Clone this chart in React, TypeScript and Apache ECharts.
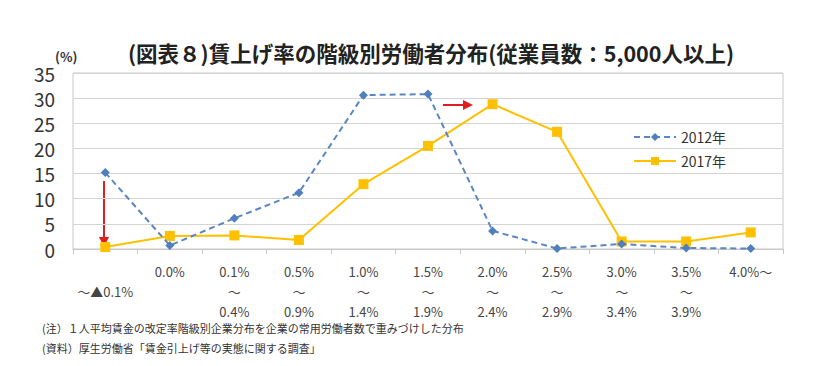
import React, { useEffect, useRef } from "react";
import * as echarts from "echarts";

const categories = [
  "\n～▲0.1%\n",
  "0.0%\n\n",
  "0.1%\n～\n0.4%",
  "0.5%\n～\n0.9%",
  "1.0%\n～\n1.4%",
  "1.5%\n～\n1.9%",
  "2.0%\n～\n2.4%",
  "2.5%\n～\n2.9%",
  "3.0%\n～\n3.4%",
  "3.5%\n～\n3.9%",
  "4.0%～\n\n",
];
const values2012 = [15.2, 0.7, 6.1, 11.2, 30.6, 30.8, 3.6, 0.1, 1.0, 0.2, 0.1];
const values2017 = [0.4, 2.6, 2.7, 1.8, 12.9, 20.5, 28.8, 23.3, 1.5, 1.5, 3.3];
const yTicks = [0, 5, 10, 15, 20, 25, 30, 35];

const FONT = '"Noto Sans CJK JP", "Noto Sans", sans-serif';

export default function App() {
  const ref = useRef<HTMLDivElement>(null);
  useEffect(() => {
    if (!ref.current) return;
    const chart = echarts.init(ref.current, undefined, { renderer: "svg" });
    chart.setOption({
      animation: false,
      backgroundColor: "#ffffff",
      textStyle: { fontFamily: FONT },
      title: {
        text: "(図表８)賃上げ率の階級別労働者分布(従業員数：5,000人以上)",
        left: 426,
        textAlign: "center",
        top: 37,
        textStyle: { fontSize: 21.5, fontWeight: "bold", color: "#222", fontFamily: FONT },
      },
      legend: {
        orient: "vertical",
        left: 628,
        top: 125,
        itemWidth: 42,
        itemHeight: 10,
        itemGap: 10,
        textStyle: { fontSize: 14, color: "#333", fontFamily: FONT },
        data: ["2012年", "2017年"],
      },
      grid: {
        left: 73,
        right: 41,
        top: 73,
        bottom: 117,
        show: true,
        borderColor: "#c8c8c8",
        borderWidth: 1,
      },
      xAxis: {
        type: "category",
        data: categories,
        boundaryGap: true,
        axisLine: { lineStyle: { color: "#c8c8c8" } },
        axisTick: { show: true, length: 5, lineStyle: { color: "#c8c8c8" } },
        axisLabel: {
          interval: 0,
          color: "#444",
          fontSize: 13,
          lineHeight: 20,
          margin: 12,
          fontFamily: FONT,
        },
      },
      yAxis: {
        type: "value",
        min: 0,
        max: 35,
        interval: 5,
        axisLine: { show: false },
        axisTick: { show: false },
        splitLine: { lineStyle: { color: "#d4d4d4" } },
        axisLabel: {
          color: "#333",
          fontSize: 19,
          margin: 18,
          fontFamily: FONT,
          formatter: (v: number) => (yTicks.includes(v) ? String(v) : ""),
        },
      },
      series: [
        {
          name: "2012年",
          type: "line",
          data: values2012,
          symbol: "diamond",
          symbolSize: 9,
          itemStyle: { color: "#4f7fbd" },
          lineStyle: { color: "#5b86c2", width: 2, type: [6, 4] },
          z: 3,
        },
        {
          name: "2017年",
          type: "line",
          data: values2017,
          symbol: "rect",
          symbolSize: 10,
          itemStyle: { color: "#ffc000" },
          lineStyle: { color: "#ffc000", width: 2 },
          z: 2,
        },
      ],
      graphic: [
        { type: "text", left: 55, top: 50, style: { text: "(%)", fontSize: 13, fontWeight: "bold", fill: "#333", fontFamily: FONT } },
        { type: "line", shape: { x1: 104, y1: 181, x2: 104, y2: 238 }, style: { stroke: "#e02020", lineWidth: 2 } },
        { type: "polygon", shape: { points: [[99, 237], [109, 237], [104, 247]] }, style: { fill: "#e02020" } },
        { type: "line", shape: { x1: 443, y1: 105, x2: 464, y2: 105 }, style: { stroke: "#e02020", lineWidth: 2 } },
        { type: "polygon", shape: { points: [[463, 100], [463, 110], [473, 105]] }, style: { fill: "#e02020" } },
        {
          type: "text",
          left: 42,
          top: 322,
          style: { text: "(注）１人平均賃金の改定率階級別企業分布を企業の常用労働者数で重みづけした分布", fontSize: 11, fill: "#333", fontFamily: FONT },
        },
        {
          type: "text",
          left: 42,
          top: 342,
          style: { text: "(資料）厚生労働省「賃金引上げ等の実態に関する調査」", fontSize: 11, fill: "#333", fontFamily: FONT },
        },
      ],
    });
    return () => chart.dispose();
  }, []);
  return <div ref={ref} style={{ width: 824, height: 366, position: "absolute", left: 0, top: 0 }} />;
}
